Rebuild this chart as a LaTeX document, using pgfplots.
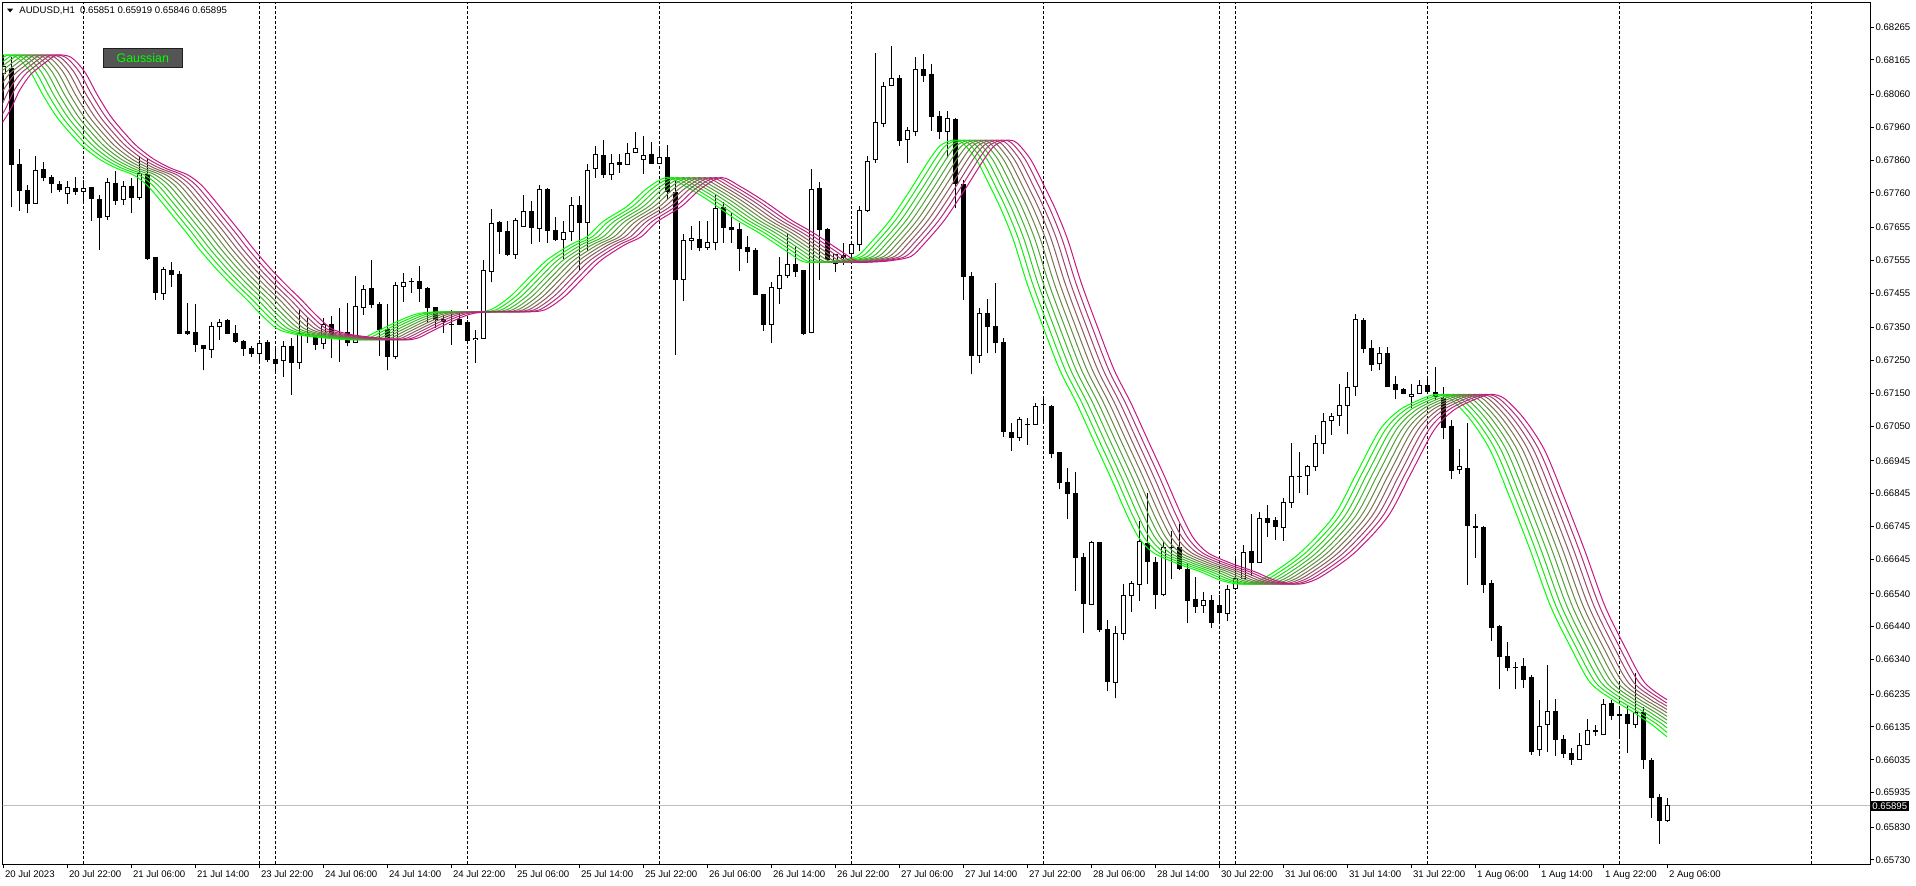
\documentclass[border=0pt]{standalone}
\usepackage{fontspec}
\setmainfont{Liberation Sans}
\usepackage{pgfplots}
\pgfplotsset{compat=1.18}
\usepackage{pgfplotstable}

\definecolor{gl}{RGB}{0,255,0}
\definecolor{gm}{RGB}{199,21,133}
\definecolor{silverc}{RGB}{192,192,192}

\pgfplotstableread{
k o h l c
0 0.68124 0.68180 0.68043 0.68144
1 0.68139 0.68175 0.67716 0.67847
2 0.67847 0.67893 0.67706 0.67767
3 0.67767 0.67784 0.67698 0.67729
4 0.67729 0.67873 0.67729 0.67828
5 0.67832 0.67855 0.67795 0.67808
6 0.67806 0.67815 0.67759 0.67789
7 0.67787 0.67795 0.67764 0.67771
8 0.67759 0.67795 0.67727 0.67777
9 0.67774 0.67810 0.67754 0.67764
10 0.67764 0.67800 0.67729 0.67774
11 0.67777 0.67779 0.67676 0.67744
12 0.67741 0.67754 0.67587 0.67685
13 0.67688 0.67805 0.67678 0.67791
14 0.67789 0.67828 0.67724 0.67737
15 0.67739 0.67795 0.67724 0.67779
16 0.67779 0.67805 0.67698 0.67747
17 0.67747 0.67871 0.67740 0.67818
18 0.67815 0.67862 0.67556 0.67561
19 0.67564 0.67566 0.67435 0.67457
20 0.67455 0.67536 0.67433 0.67526
21 0.67524 0.67551 0.67475 0.67511
22 0.67511 0.67521 0.67333 0.67333
23 0.67338 0.67424 0.67328 0.67331
24 0.67335 0.67423 0.67277 0.67300
25 0.67296 0.67298 0.67220 0.67286
26 0.67285 0.67366 0.67257 0.67353
27 0.67355 0.67376 0.67313 0.67366
28 0.67371 0.67377 0.67333 0.67333
29 0.67333 0.67358 0.67303 0.67308
30 0.67308 0.67313 0.67264 0.67288
31 0.67288 0.67293 0.67262 0.67272
32 0.67272 0.67313 0.67242 0.67303
33 0.67305 0.67313 0.67247 0.67252
34 0.67252 0.67291 0.67217 0.67242
35 0.67249 0.67308 0.67201 0.67293
36 0.67293 0.67318 0.67146 0.67245
37 0.67245 0.67404 0.67224 0.67333
38 0.67330 0.67379 0.67303 0.67325
39 0.67321 0.67328 0.67282 0.67300
40 0.67301 0.67379 0.67284 0.67361
41 0.67361 0.67384 0.67257 0.67323
42 0.67323 0.67409 0.67247 0.67320
43 0.67336 0.67424 0.67293 0.67306
44 0.67306 0.67506 0.67303 0.67414
45 0.67412 0.67480 0.67389 0.67467
46 0.67470 0.67556 0.67409 0.67422
47 0.67422 0.67429 0.67264 0.67343
48 0.67343 0.67423 0.67220 0.67262
49 0.67262 0.67490 0.67254 0.67477
50 0.67475 0.67516 0.67429 0.67487
51 0.67490 0.67500 0.67455 0.67490
52 0.67492 0.67538 0.67429 0.67470
53 0.67470 0.67475 0.67364 0.67412
54 0.67412 0.67414 0.67350 0.67374
55 0.67376 0.67389 0.67333 0.67369
56 0.67360 0.67404 0.67298 0.67360
57 0.67374 0.67394 0.67358 0.67361
58 0.67365 0.67374 0.67308 0.67311
59 0.67313 0.67343 0.67242 0.67318
60 0.67318 0.67556 0.67315 0.67524
61 0.67521 0.67711 0.67488 0.67668
62 0.67671 0.67675 0.67575 0.67644
63 0.67644 0.67675 0.67569 0.67572
64 0.67574 0.67683 0.67560 0.67676
65 0.67658 0.67754 0.67658 0.67703
66 0.67703 0.67734 0.67604 0.67656
67 0.67653 0.67785 0.67612 0.67771
68 0.67771 0.67774 0.67607 0.67646
69 0.67646 0.67686 0.67615 0.67619
70 0.67619 0.67676 0.67558 0.67641
71 0.67643 0.67749 0.67615 0.67722
72 0.67722 0.67752 0.67524 0.67671
73 0.67671 0.67847 0.67582 0.67828
74 0.67833 0.67903 0.67807 0.67878
75 0.67874 0.67921 0.67807 0.67815
76 0.67815 0.67878 0.67798 0.67850
77 0.67853 0.67879 0.67822 0.67846
78 0.67846 0.67913 0.67845 0.67881
79 0.67883 0.67945 0.67881 0.67896
80 0.67861 0.67934 0.67818 0.67875
81 0.67878 0.67914 0.67850 0.67850
82 0.67850 0.67901 0.67850 0.67869
83 0.67869 0.67905 0.67739 0.67765
84 0.67762 0.67800 0.67267 0.67498
85 0.67498 0.67634 0.67430 0.67615
86 0.67615 0.67658 0.67587 0.67622
87 0.67619 0.67676 0.67582 0.67595
88 0.67595 0.67676 0.67587 0.67610
89 0.67610 0.67754 0.67585 0.67713
90 0.67717 0.67731 0.67609 0.67656
91 0.67656 0.67698 0.67607 0.67648
92 0.67648 0.67668 0.67521 0.67592
93 0.67595 0.67629 0.67548 0.67582
94 0.67584 0.67592 0.67450 0.67452
95 0.67452 0.67452 0.67341 0.67359
96 0.67359 0.67488 0.67303 0.67472
97 0.67470 0.67565 0.67423 0.67509
98 0.67509 0.67635 0.67501 0.67543
99 0.67541 0.67599 0.67504 0.67521
100 0.67523 0.67523 0.67328 0.67331
101 0.67335 0.67832 0.67333 0.67771
102 0.67774 0.67793 0.67495 0.67648
103 0.67650 0.67653 0.67556 0.67556
104 0.67546 0.67572 0.67518 0.67572
105 0.67570 0.67607 0.67541 0.67563
106 0.67577 0.67607 0.67556 0.67604
107 0.67604 0.67719 0.67582 0.67708
108 0.67708 0.67871 0.67703 0.67855
109 0.67861 0.68185 0.67852 0.67974
110 0.67972 0.68099 0.67962 0.68084
111 0.68087 0.68207 0.68084 0.68109
112 0.68109 0.68119 0.67903 0.67919
113 0.67924 0.67962 0.67852 0.67950
114 0.67947 0.68173 0.67932 0.68136
115 0.68136 0.68183 0.68099 0.68117
116 0.68121 0.68153 0.67950 0.67992
117 0.67992 0.68008 0.67924 0.67947
118 0.67947 0.68008 0.67866 0.67987
119 0.67984 0.67987 0.67713 0.67790
120 0.67787 0.67799 0.67434 0.67507
121 0.67507 0.67520 0.67208 0.67265
122 0.67265 0.67409 0.67244 0.67394
123 0.67394 0.67436 0.67272 0.67353
124 0.67355 0.67486 0.67272 0.67304
125 0.67305 0.67318 0.67018 0.67034
126 0.67032 0.67059 0.66976 0.67015
127 0.67016 0.67079 0.67006 0.67071
128 0.67056 0.67074 0.66993 0.67054
129 0.67056 0.67122 0.67056 0.67110
130 0.67115 0.67135 0.67059 0.67115
131 0.67110 0.67115 0.66953 0.66966
132 0.66971 0.66971 0.66858 0.66879
133 0.66880 0.66922 0.66767 0.66846
134 0.66846 0.66912 0.66550 0.66650
135 0.66652 0.66664 0.66422 0.66511
136 0.66508 0.66702 0.66506 0.66697
137 0.66697 0.66697 0.66425 0.66430
138 0.66432 0.66461 0.66243 0.66273
139 0.66271 0.66443 0.66222 0.66420
140 0.66420 0.66570 0.66398 0.66534
141 0.66534 0.66580 0.66486 0.66572
142 0.66569 0.66762 0.66519 0.66699
143 0.66694 0.66848 0.66570 0.66638
144 0.66636 0.66653 0.66493 0.66537
145 0.66537 0.66702 0.66532 0.66682
146 0.66682 0.66730 0.66584 0.66680
147 0.66682 0.66753 0.66613 0.66618
148 0.66615 0.66633 0.66451 0.66519
149 0.66522 0.66591 0.66483 0.66501
150 0.66503 0.66545 0.66481 0.66519
151 0.66519 0.66537 0.66435 0.66454
152 0.66506 0.66537 0.66453 0.66483
153 0.66481 0.66567 0.66456 0.66554
154 0.66555 0.66645 0.66552 0.66587
155 0.66587 0.66689 0.66587 0.66666
156 0.66669 0.66783 0.66595 0.66635
157 0.66635 0.66790 0.66633 0.66770
158 0.66770 0.66811 0.66714 0.66757
159 0.66762 0.66775 0.66704 0.66745
160 0.66743 0.66831 0.66702 0.66819
161 0.66819 0.67000 0.66800 0.66897
162 0.66897 0.66973 0.66846 0.66897
163 0.66899 0.66932 0.66841 0.66927
164 0.66929 0.67024 0.66915 0.66996
165 0.66996 0.67091 0.66965 0.67064
166 0.67066 0.67091 0.67024 0.67081
167 0.67083 0.67179 0.67051 0.67113
168 0.67114 0.67216 0.67025 0.67169
169 0.67171 0.67392 0.67142 0.67375
170 0.67373 0.67378 0.67272 0.67287
171 0.67287 0.67313 0.67219 0.67238
172 0.67240 0.67292 0.67221 0.67272
173 0.67272 0.67290 0.67171 0.67171
174 0.67176 0.67203 0.67132 0.67162
175 0.67162 0.67165 0.67148 0.67150
176 0.67140 0.67179 0.67105 0.67147
177 0.67150 0.67191 0.67148 0.67174
178 0.67174 0.67193 0.67152 0.67157
179 0.67152 0.67229 0.67130 0.67140
180 0.67134 0.67170 0.67010 0.67045
181 0.67048 0.67069 0.66888 0.66916
182 0.66919 0.66982 0.66905 0.66926
183 0.66922 0.67060 0.66568 0.66748
184 0.66744 0.66783 0.66650 0.66742
185 0.66743 0.66745 0.66542 0.66568
186 0.66570 0.66582 0.66396 0.66437
187 0.66441 0.66445 0.66249 0.66348
188 0.66348 0.66393 0.66304 0.66317
189 0.66317 0.66333 0.66249 0.66317
190 0.66320 0.66345 0.66254 0.66280
191 0.66286 0.66294 0.66050 0.66060
192 0.66066 0.66218 0.66048 0.66137
193 0.66141 0.66322 0.66060 0.66181
194 0.66181 0.66221 0.66048 0.66097
195 0.66097 0.66110 0.66040 0.66055
196 0.66053 0.66071 0.66019 0.66037
197 0.66037 0.66118 0.66036 0.66079
198 0.66081 0.66158 0.66079 0.66123
199 0.66125 0.66141 0.66108 0.66120
200 0.66111 0.66221 0.66110 0.66202
201 0.66205 0.66218 0.66157 0.66170
202 0.66172 0.66200 0.66105 0.66170
203 0.66172 0.66202 0.66055 0.66144
204 0.66141 0.66298 0.66131 0.66179
205 0.66179 0.66197 0.66008 0.66036
206 0.66034 0.66039 0.65858 0.65921
207 0.65919 0.65932 0.65780 0.65851
208 0.65851 0.65919 0.65846 0.65895
}\candles

\pgfplotstableread{
t p
-7.2 0.67962
-5.9 0.68012
-4.7 0.68073
-3.4 0.68119
-2.2 0.68144
-0.9 0.68168
0.0 0.68180
1.7 0.68173
3.4 0.68129
5.0 0.68058
6.7 0.67992
8.4 0.67942
10.0 0.67901
12.1 0.67862
14.2 0.67835
16.3 0.67815
18.0 0.67784
19.6 0.67739
21.3 0.67688
23.0 0.67637
24.6 0.67587
26.7 0.67528
28.8 0.67475
30.5 0.67435
32.1 0.67394
34.2 0.67348
36.3 0.67331
39.2 0.67321
43.4 0.67313
45.0 0.67318
46.7 0.67338
49.6 0.67372
52.1 0.67394
55.9 0.67399
58.4 0.67398
60.9 0.67404
63.4 0.67445
65.9 0.67506
68.0 0.67556
70.9 0.67602
73.0 0.67627
75.0 0.67673
78.0 0.67719
80.5 0.67774
83.0 0.67807
85.4 0.67779
88.4 0.67734
91.7 0.67678
94.6 0.67637
98.0 0.67582
100.0 0.67551
102.0 0.67550
104.2 0.67554
106.7 0.67567
108.4 0.67607
110.9 0.67678
113.4 0.67769
115.9 0.67865
117.2 0.67905
118.8 0.67921
120.0 0.67911
121.7 0.67860
123.4 0.67779
124.8 0.67708
126.3 0.67617
128.0 0.67485
130.0 0.67353
132.1 0.67221
134.2 0.67120
136.3 0.67008
138.4 0.66897
140.5 0.66780
142.0 0.66710
143.8 0.66665
146.7 0.66633
149.6 0.66608
152.1 0.66582
154.2 0.66570
155.9 0.66572
158.0 0.66593
162.1 0.66664
166.3 0.66775
169.2 0.66907
172.1 0.67039
174.6 0.67100
177.5 0.67135
179.2 0.67147
180.9 0.67134
183.4 0.67071
185.9 0.66977
188.4 0.66830
190.9 0.66673
193.4 0.66505
195.9 0.66380
198.4 0.66270
201.2 0.66218
201.88 0.66208
202.56 0.66198
203.24 0.66188
203.92 0.66178
204.6 0.66167
205.28 0.66156
205.96 0.66145
206.64 0.66132
207.32 0.66118
208.0 0.66105
}\gauss

\pgfplotsset{
  candlepart/.style={forget plot, only marks, mark=*, mark size=0pt,
    mark options={draw=none, fill=none},
    error bars/y dir=plus, error bars/y explicit, error bars/error mark=none},
}

\begin{document}
\begin{tikzpicture}[x=1pt,y=1pt]
\useasboundingbox (0,0) rectangle (958,442.5);
\begin{axis}[
  at={(1.25pt,10.5pt)}, anchor=south west,
  scale only axis, width=933.75pt, height=430.75pt,
  xmin=-0.0625, xmax=233.375, ymin=0.657178, ymax=0.683396,
  axis line style={black, line width=0.5pt},
  xtick={0,8,...,208},
  xticklabels={20 Jul 2023,20 Jul 22:00,21 Jul 06:00,21 Jul 14:00,23 Jul 22:00,24 Jul 06:00,24 Jul 14:00,24 Jul 22:00,25 Jul 06:00,25 Jul 14:00,25 Jul 22:00,26 Jul 06:00,26 Jul 14:00,26 Jul 22:00,27 Jul 06:00,27 Jul 14:00,27 Jul 22:00,28 Jul 06:00,28 Jul 14:00,30 Jul 22:00,31 Jul 06:00,31 Jul 14:00,31 Jul 22:00,1 Aug 06:00,1 Aug 14:00,1 Aug 22:00,2 Aug 06:00},
  ytick={0.68265,0.68165,0.68060,0.67960,0.67860,0.67760,0.67655,0.67555,0.67455,0.67350,0.67250,0.67150,0.67050,0.66945,0.66845,0.66745,0.66645,0.66540,0.66440,0.66340,0.66235,0.66135,0.66035,0.65935,0.65830,0.65730},
  yticklabels={0.68265,0.68165,0.68060,0.67960,0.67860,0.67760,0.67655,0.67555,0.67455,0.67350,0.67250,0.67150,0.67050,0.66945,0.66845,0.66745,0.66645,0.66540,0.66440,0.66340,0.66235,0.66135,0.66035,0.65935,0.65830,0.65730},
  xtick pos=left, ytick pos=right, yticklabel pos=right,
  tick align=outside,
  major tick length=2pt,
  tick style={black, line width=0.5pt},
  ticklabel style={font=\fontsize{4.8}{5.5}\selectfont},
  xticklabel style={anchor=north west, inner sep=0pt, xshift=0.8pt, yshift=-1.2pt},
  yticklabel style={anchor=west, inner sep=0pt, xshift=0.6pt},
  extra x ticks={10,32,34,58,82,106,130,152,154,178,202,226},
  extra x tick labels={},
  extra x tick style={grid=major, major tick length=0pt, major grid style={black, line width=0.5pt, dash pattern=on 1.5pt off 1pt}},
]
% current price line
\addplot[silverc, line width=0.5pt, forget plot] coordinates {(-1,0.65895) (240,0.65895)};
% wicks
\addplot[candlepart, error bars/error bar style={draw=black, line width=0.5pt}]
  table[x=k, y=l, y error plus expr={\thisrow{h}-\thisrow{l}}] {\candles};
% bodies (outline / bear fill)
\addplot[candlepart, error bars/error bar style={draw=black, line width=2.5pt}]
  table[x=k, y expr={min(\thisrow{o},\thisrow{c})-0.0000152},
        y error plus expr={abs(\thisrow{c}-\thisrow{o})+0.0000304}] {\candles};
% bull interiors
\addplot[candlepart, restrict expr to domain={\thisrow{c}-\thisrow{o}}{0.00004:1},
  error bars/error bar style={draw=white, line width=1.5pt}]
  table[x=k, y expr={\thisrow{o}+0.0000152},
        y error plus expr={\thisrow{c}-\thisrow{o}-0.0000304}] {\candles};
% Gaussian fan
\pgfplotsinvokeforeach{0,...,10}{
  \addplot[forget plot, smooth, line width=0.5pt, color=gm!#10!gl,
    restrict x to domain=-20:208.001]
    table[x expr={\thisrow{t}+#1*0.68}, y=p] {\gauss};
}
\coordinate (pl) at (axis cs:233.375,0.65895);
\end{axis}
\node[fill=black, text=white, anchor=west, inner sep=0.7pt,
  font=\fontsize{4.8}{5.5}\selectfont] at ([xshift=0.3pt]pl) {0.65895};
% header
\fill[black] (3.5,438.2) -- (6.6,438.2) -- (5.05,436.3) -- cycle;
\node[anchor=west, inner sep=0pt, font=\fontsize{4.8}{5.5}\selectfont]
  at (9.5,437.2) {AUDUSD,H1\ \ 0.65851 0.65919 0.65846 0.65895};
% indicator button
\node[draw={rgb,255:red,30;green,30;blue,30}, fill={rgb,255:red,85;green,85;blue,85},
  minimum width=39.5pt, minimum height=9.7pt, inner sep=0pt, line width=0.5pt,
  text=gl, font=\fontsize{6.2}{7}\selectfont] at (71.4,413.5) {Gaussian};
\end{tikzpicture}
\end{document}
